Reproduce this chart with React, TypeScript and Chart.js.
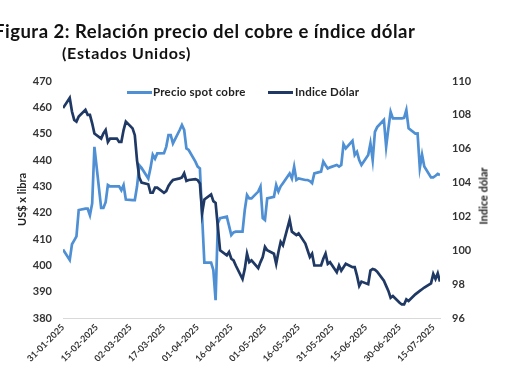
import React, { useEffect, useRef } from "react";
import { Chart, registerables } from "chart.js";

Chart.register(...registerables);

// Dates: trading days (Mon-Fri) from 31-01-2025 to 18-07-2025
const startDate = new Date(2025, 0, 31);
const endDate = new Date(2025, 6, 18);

function buildTradingDays(): number[] {
  const out: number[] = [];
  const d = new Date(startDate);
  let i = 0;
  while (d <= endDate) {
    const wd = d.getDay();
    if (wd !== 0 && wd !== 6) out.push(i);
    d.setDate(d.getDate() + 1);
    i++;
  }
  return out;
}
const tradingDays = buildTradingDays(); // days since 31-01-2025

const tickLabels = [
  "31-01-2025", "15-02-2025", "02-03-2025", "17-03-2025", "01-04-2025", "16-04-2025",
  "01-05-2025", "16-05-2025", "31-05-2025", "15-06-2025", "30-06-2025", "15-07-2025",
];

// Precio spot cobre (US$ cents x libra), left axis
const copper = [
  406,
  402, 408, 409.5, 411, 421,
  421.5, 421.5, 419, 423.5, 445,
  421.8, 421.8, 424, 430.5, 430,
  430, 430, 428.5, 430.5, 425,
  424.8, 424.8, 430, 438, 437,
  433, 437, 442, 440.5, 442.5,
  442.6, 445, 449.5, 449.5, 446.3,
  451.4, 453.3, 451.4, 444.4, 443.8,
  439.4, 437.5, 436.8, 418.5, 401,
  401, 398.2, 386.8, 416, 417.9,
  418.5, 415, 411.5, 412.5, 412.8,
  412.8, 421, 426.7, 425.4, 425.4,
  428, 429.9, 417.9, 417.2, 425.4,
  426, 430.5, 428, 430, 431.2,
  434.9, 433, 437.5, 432.4, 433,
  432.4, 432.4, 432, 431.2, 434.9,
  435.6, 439.4, 438, 436.8, 437.2,
  438.1, 437.5, 438.1, 446, 444.4,
  447.3, 441.9, 443.1, 440, 438.1,
  441.9, 446.3, 440, 450.7, 452.5,
  455.2, 445, 452, 458.3, 455.8,
  455.8, 455.8, 456, 459, 452,
  450, 450.1, 437, 442, 437.5,
  433.4, 433.4, 434, 434.7, 434.3,
];

// Indice Dólar, right axis
const dollar = [
  108.4,
  109.0, 108.2, 107.7, 107.6, 107.9,
  108.3, 108.0, 108.0, 107.5, 106.9,
  106.6, 106.9, 107.1, 106.4, 106.6,
  106.6, 106.4, 106.4, 107.1, 107.6,
  107.2, 106.8, 105.3, 104.3, 104.0,
  103.9, 103.4, 103.4, 103.7, 103.7,
  103.4, 103.5, 103.8, 104.0, 104.15,
  104.25, 104.3, 104.55, 104.1, 104.15,
  104.2, 104.15, 103.95, 102.2, 103.0,
  103.3, 102.9, 102.8, 101.4, 100.0,
  99.7, 99.9, 99.5, 99.4, 99.1,
  98.3, 98.9, 99.8, 99.3, 99.4,
  98.95, 99.3, 99.6, 100.2, 100.0,
  99.8, 99.2, 99.9, 100.5, 100.3,
  101.8, 101.1, 101.0, 100.9, 101.0,
  100.4, 100.0, 99.6, 99.8, 99.1,
  99.1, 99.5, 99.8, 99.2, 99.3,
  98.7, 99.1, 98.8, 99.0, 99.2,
  99.0, 99.0, 98.5, 97.9, 98.15,
  98.0, 98.8, 98.9, 98.85, 98.74,
  98.2, 97.9, 97.6, 97.2, 97.3,
  96.9, 96.8, 96.8, 97.1, 97.0,
  97.4, 97.5, 97.6, 97.7, 97.8,
  98.05, 98.6, 98.3, 98.64, 98.15,
];

const copperLabel = "Precio spot cobre";
const dollarLabel = "Indice Dólar";
const COPPER_COLOR = "#4f8fd3";
const DOLLAR_COLOR = "#1f3864";
const FONT = "Lato, 'Open Sans', sans-serif";
const TEXT = "#333333";

export default function App() {
  const canvasRef = useRef<HTMLCanvasElement | null>(null);

  useEffect(() => {
    document.body.style.margin = "0";
    const canvas = canvasRef.current;
    if (!canvas) return;
    const chart = new Chart(canvas, {
      type: "line",
      data: {
        datasets: [
          {
            label: copperLabel,
            data: tradingDays.map((x, i) => ({ x, y: copper[i] })),
            borderColor: COPPER_COLOR,
            backgroundColor: COPPER_COLOR,
            borderWidth: 2.7,
            pointRadius: 0,
            tension: 0,
            yAxisID: "y",
            order: 1,
          },
          {
            label: dollarLabel,
            data: tradingDays.map((x, i) => ({ x, y: dollar[i] })),
            borderColor: DOLLAR_COLOR,
            backgroundColor: DOLLAR_COLOR,
            borderWidth: 2.7,
            pointRadius: 0,
            tension: 0,
            yAxisID: "y1",
            order: 0,
          },
        ],
      },
      options: {
        responsive: false,
        animation: false,
        layout: { padding: { left: 12, right: 20, top: 81, bottom: 0 } },
        plugins: {
          legend: { display: false },
          title: { display: false },
          tooltip: { enabled: false },
        },
        scales: {
          x: {
            type: "linear",
            min: 0,
            max: 168,
            grid: { display: false, drawTicks: false },
            border: { display: true, color: "#d9d9d9", width: 1 },
            ticks: {
              stepSize: 15,
              includeBounds: false,
              autoSkip: false,
              minRotation: 45,
              maxRotation: 45,
              padding: 4,
              color: TEXT,
              font: { family: FONT, size: 9, weight: "bold" },
              callback: (v: any) => {
                const idx = Math.round(Number(v) / 15);
                return tickLabels[idx] ?? "";
              },
            },
            afterFit: (s: any) => {
              s.height = 64;
            },
          },
          y: {
            type: "linear",
            position: "left",
            min: 380,
            max: 470,
            grid: { display: false, drawTicks: false },
            border: { display: false },
            ticks: {
              stepSize: 10,
              padding: 11,
              color: TEXT,
              font: { family: FONT, size: 11, weight: "bold" },
            },
            title: {
              display: true,
              text: "US$ x libra",
              color: "#222",
              font: { family: FONT, size: 11, weight: "bold" },
              padding: 4,
            },
            afterFit: (s: any) => {
              s.width = 51;
            },
          },
          y1: {
            type: "linear",
            position: "right",
            min: 96,
            max: 110,
            grid: { display: false, drawTicks: false },
            border: { display: false },
            ticks: {
              stepSize: 2,
              padding: 12,
              color: TEXT,
              font: { family: FONT, size: 11, weight: "bold" },
            },
            afterFit: (s: any) => {
              s.width = 50;
            },
          },
        },
      },
    } as any);
    return () => chart.destroy();
  }, []);

  const legendText: React.CSSProperties = {
    position: "absolute",
    fontFamily: FONT,
    fontWeight: 700,
    fontSize: 11.5,
    color: "#222",
    whiteSpace: "nowrap",
    lineHeight: "14px",
  };

  return (
    <div style={{ position: "relative", width: 510, height: 382, overflow: "hidden", background: "#fff" }}>
      <canvas ref={canvasRef} width={510} height={382} style={{ position: "absolute", left: 0, top: 0 }} />
      <div
        style={{
          position: "absolute",
          left: -6,
          top: 20,
          fontFamily: FONT,
          fontWeight: 700,
          fontSize: 18.5,
          letterSpacing: 0.5,
          color: "#111",
          whiteSpace: "nowrap",
          lineHeight: "22px",
        }}
      >
        Figura 2: Relación precio del cobre e índice dólar
      </div>
      <div
        style={{
          position: "absolute",
          left: 62,
          top: 43,
          fontFamily: FONT,
          fontWeight: 700,
          fontSize: 16,
          letterSpacing: 0.7,
          color: "#111",
          whiteSpace: "nowrap",
          lineHeight: "19px",
        }}
      >
        (Estados Unidos)
      </div>
      <div style={{ position: "absolute", left: 127, top: 91, width: 25, height: 2.7, background: COPPER_COLOR }} />
      <div style={{ ...legendText, left: 153, top: 85, letterSpacing: 0.2 }}>{copperLabel}</div>
      <div style={{ position: "absolute", left: 268, top: 91, width: 25, height: 2.7, background: DOLLAR_COLOR }} />
      <div style={{ ...legendText, left: 295, top: 85, letterSpacing: 0.2 }}>{dollarLabel}</div>
      <div
        style={{
          position: "absolute",
          left: 483,
          top: 196,
          transform: "translate(-50%, -50%) rotate(-90deg)",
          fontFamily: FONT,
          fontWeight: 700,
          fontSize: 11,
          color: "#222",
          whiteSpace: "nowrap",
          lineHeight: "13px",
        }}
      >
        Indice dólar
      </div>
    </div>
  );
}
